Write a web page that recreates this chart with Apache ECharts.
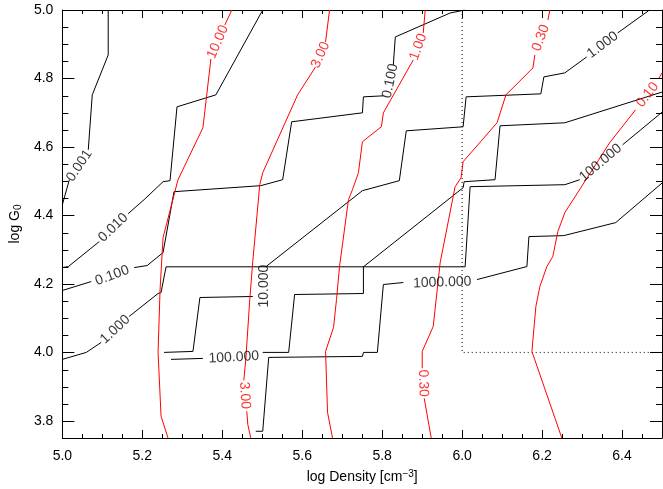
<!DOCTYPE html>
<html><head><meta charset="utf-8">
<script src="https://cdn.jsdelivr.net/npm/echarts@6/dist/echarts.min.js"></script>
<style>html,body{margin:0;padding:0;background:#fff}#c{width:663px;height:489px}</style>
</head><body><div id="c"></div>
<script>
// ---- axes ----
const xRange = [5.0, 6.5];
const yRange = [3.75, 5.0];
const xMajorTicks = [5.0, 5.2, 5.4, 5.6, 5.8, 6.0, 6.2, 6.4];
const yMajorTicks = [3.8, 4.0, 4.2, 4.4, 4.6, 4.8, 5.0];
const minorStep = 0.05;

// ---- black contours (segments, broken where labels sit) ----
const black_0001 = [
  [[5.1147,5.0],[5.1147,4.8688],[5.0748,4.7522],[5.0648,4.5918]],
  [[5.0175,4.5044],[5.0,4.4315]]
];
const black_0010 = [
  [[5.0,4.2478],[5.0150,4.2507],[5.0923,4.3236]],
  [[5.1646,4.4052],[5.2045,4.4461],[5.2519,4.4985],[5.2693,4.5015],[5.2868,4.7172],[5.3840,4.7522],[5.5012,5.0]]
];
const black_0100 = [
  [[5.0,4.1808],[5.0723,4.2070]],
  [[5.1796,4.2478],[5.2120,4.2536],[5.2519,4.2915],[5.2793,4.4694],[5.4963,4.4869],[5.5511,4.5044],[5.5736,4.6735],[5.7506,4.6997],[5.7531,4.7464],[5.8030,4.7493]],
  [[5.8279,4.8397],[5.8329,4.9213],[5.9701,4.9913],[6.0075,5.0]]
];
const black_1000 = [
  [[5.0,3.9796],[5.0599,4.0],[5.0973,4.0292]],
  [[5.1671,4.1050],[5.2394,4.1720],[5.2469,4.1749],[5.2594,4.25],[6.0075,4.25],[6.0200,4.4840],[6.2569,4.4898],[6.2943,4.5044]],
  [[6.4015,4.6064],[6.5,4.7015]]
];
const black_100a = [
  [[5.2718,3.9796],[5.3516,3.9825]],
  [[5.5012,4.0],[5.5661,4.0],[5.5810,4.1691],[5.7531,4.1720],[5.7531,4.25],[6.0025,4.4810],[6.0050,4.4985],[6.0823,4.5044],[6.0948,4.6618],[6.2569,4.6706],[6.5,4.7603]]
];
const black_1000b = [
  [[6.4688,5.0],[6.3890,4.9329]],
  [[6.3117,4.8630],[6.2569,4.8163],[6.2045,4.8047],[6.1970,4.7551],[6.0100,4.7464],[6.0025,4.6589],[5.8603,4.6472],[5.8429,4.5015],[5.7506,4.4723],[5.5087,4.25]]
];
const black_10 = [
  [[5.2544,4.0],[5.3267,4.0029],[5.3441,4.1603],[5.4763,4.1633]]
];
const black_1000000 = [
  [[5.4838,3.7697],[5.5012,3.7697],[5.5162,3.9854],[5.7506,3.9883],[5.7531,4.0],[5.7880,4.0],[5.8030,4.1983],[5.8529,4.2041]],
  [[6.0374,4.2128],[6.1621,4.2507],[6.1671,4.3382],[6.2544,4.3411],[6.3840,4.3790],[6.5,4.4945]]
];
// label: x, y, text, rotation(deg)
const blackLabels = [
  [5.0424,4.5452,'0.001',56],
  [5.1272,4.3644,'0.010',44],
  [5.1247,4.2245,'0.100',20],
  [5.8204,4.7930,'0.100',78],
  [5.1322,4.0671,'1.000',43],
  [6.3466,4.5539,'100.000',40],
  [5.4289,3.9854,'100.000',3],
  [6.3516,4.8980,'1.000',37],
  [5.5037,4.1938,'10.000',90],
  [5.9501,4.2041,'1000.000',2]
];

// ---- red contours ----
const red_10 = [
  [[5.4239,5.0],[5.4065,4.9563]],
  [[5.3716,4.8571],[5.3516,4.6560],[5.2893,4.5044],[5.2519,4.3353],[5.2444,4.1837],[5.2394,4.0],[5.2469,3.8134],[5.2643,3.75]]
];
const red_3 = [
  [[5.6683,5.0],[5.6584,4.9067]],
  [[5.6334,4.8338],[5.5885,4.7522],[5.5012,4.5248],[5.4938,4.4898],[5.4763,4.2653],[5.4688,4.1545],[5.4589,3.9796],[5.4539,3.9184]],
  [[5.4613,3.8280],[5.4638,3.7901],[5.4713,3.75]]
];
const red_1 = [
  [[5.9077,5.0],[5.9027,4.9329]],
  [[5.8778,4.8542],[5.8030,4.6997],[5.7980,4.6589],[5.7506,4.6152],[5.7406,4.5248],[5.7257,4.4752],[5.7157,4.4461],[5.6933,4.2507],[5.6858,4.1545],[5.6783,4.0729],[5.6584,4.0029],[5.6633,3.8251],[5.6758,3.75]]
];
const red_03 = [
  [[6.2195,5.0],[6.2145,4.9708]],
  [[6.1820,4.8688],[6.1771,4.8309],[6.1097,4.7522],[6.0873,4.6706],[6.0025,4.5569],[5.9975,4.5102],[5.9825,4.4840],[5.9451,4.2624],[5.9277,4.0758],[5.9002,4.0029],[5.9002,3.9534]],
  [[5.9052,3.8659],[5.9227,3.75]]
];
const red_01 = [
  [[6.5,4.8163],[6.4913,4.7988]],
  [[6.4339,4.7085],[6.3691,4.6122],[6.2569,4.4082],[6.2394,4.3528],[6.2269,4.2799],[6.2120,4.2507],[6.1945,4.1924],[6.1845,4.1341],[6.1746,4.0029],[6.2494,3.75]]
];
const redLabels = [
  [5.3890,4.9067,'10.00',67],
  [5.6459,4.8688,'3.00',66],
  [5.4564,3.8746,'3.00',-86],
  [5.8903,4.8921,'1.00',70],
  [6.1970,4.9184,'0.30',70],
  [5.9027,3.9096,'0.30',-88],
  [6.4638,4.7522,'0.10',52]
];

// dotted region
const boxX = [6.0, 6.0, 6.5];
const boxY = [5.0, 4.0, 4.0];

const FONT = 'Liberation Sans';
const series = [];
function addLines(segs, color) {
  segs.forEach(s => series.push({
    type: 'line', data: s, showSymbol: false, symbol: 'none', silent: true,
    xAxisIndex: 0, yAxisIndex: 0, clip: true, z: color === 'red' ? 4 : 3,
    lineStyle: { color: color, width: 1 }
  }));
}
function addLabels(labels, color) {
  series.push({
    type: 'scatter', symbolSize: 0, silent: true, xAxisIndex: 0, yAxisIndex: 0,
    z: 5,
    data: labels.map(l => ({ value: [l[0], l[1], l[2]], label: { rotate: l[3] } })),
    label: { show: true, position: 'inside', formatter: p => p.value[2],
      color: color, fontSize: 14, fontFamily: FONT }
  });
}
[black_0001, black_0010, black_0100, black_1000, black_100a, black_1000b, black_10, black_1000000]
  .forEach(c => addLines(c, '#000'));
addLabels(blackLabels, '#000');
[red_10, red_3, red_1, red_03, red_01].forEach(c => addLines(c, 'red'));
addLabels(redLabels, 'red');
series.push({
  type: 'line', data: boxX.map((x, i) => [x, boxY[i]]), showSymbol: false, silent: true,
  xAxisIndex: 0, yAxisIndex: 0, z: 2,
  lineStyle: { color: '#000', width: 1, type: [1, 3] }
});

// ---- tick marks (inward) drawn through the axis scales ----
// item: [value, side(0 bottom,1 top,2 left,3 right), length px]
const X_MAJOR_LEN = 8, X_MINOR_LEN = 4, Y_MAJOR_LEN = 12, Y_MINOR_LEN = 6;
const tickItems = [];
const nx = Math.round((xRange[1] - xRange[0]) / minorStep);
for (let i = 0; i <= nx; i++) {
  const v = +(xRange[0] + i * minorStep).toFixed(2);
  const major = xMajorTicks.some(t => Math.abs(t - v) < 1e-6);
  tickItems.push([v, 0, major ? X_MAJOR_LEN : X_MINOR_LEN]);
  tickItems.push([v, 1, major ? X_MAJOR_LEN : X_MINOR_LEN]);
}
const ny = Math.round((yRange[1] - yRange[0]) / minorStep);
for (let i = 0; i <= ny; i++) {
  const v = +(yRange[0] + i * minorStep).toFixed(2);
  const major = yMajorTicks.some(t => Math.abs(t - v) < 1e-6);
  tickItems.push([v, 2, major ? Y_MAJOR_LEN : Y_MINOR_LEN]);
  tickItems.push([v, 3, major ? Y_MAJOR_LEN : Y_MINOR_LEN]);
}
series.push({
  type: 'custom', xAxisIndex: 0, yAxisIndex: 0, silent: true, clip: false, z: 6,
  data: tickItems,
  renderItem: function (params, api) {
    const v = api.value(0), side = api.value(1), len = api.value(2);
    let p, x1, y1, x2, y2;
    if (side === 0) { p = api.coord([v, yRange[0]]); x1 = x2 = Math.round(p[0]) + 0.5; y1 = p[1]; y2 = p[1] - len; }
    else if (side === 1) { p = api.coord([v, yRange[1]]); x1 = x2 = Math.round(p[0]) + 0.5; y1 = p[1]; y2 = p[1] + len; }
    else if (side === 2) { p = api.coord([xRange[0], v]); y1 = y2 = Math.round(p[1]) + 0.5; x1 = p[0]; x2 = p[0] + len; }
    else { p = api.coord([xRange[1], v]); y1 = y2 = Math.round(p[1]) + 0.5; x1 = p[0]; x2 = p[0] - len; }
    return { type: 'line', shape: { x1: x1, y1: y1, x2: x2, y2: y2 }, style: { stroke: '#000', lineWidth: 1 } };
  }
});

function xAxisDef(pos, showLabels) {
  return {
    type: 'value', position: pos, min: xRange[0], max: xRange[1], gridIndex: 0,
    splitLine: { show: false },
    axisLine: { show: true, onZero: false, lineStyle: { color: '#000', width: 1 } },
    axisTick: { show: false },
    axisLabel: { show: showLabels, customValues: xMajorTicks, formatter: v => v.toFixed(1), color: '#000',
      fontSize: 14, fontFamily: FONT, margin: 11 }
  };
}
function yAxisDef(pos, showLabels) {
  return {
    type: 'value', position: pos, min: yRange[0], max: yRange[1], gridIndex: 0,
    splitLine: { show: false },
    axisLine: { show: true, onZero: false, lineStyle: { color: '#000', width: 1 } },
    axisTick: { show: false },
    axisLabel: { show: showLabels, customValues: yMajorTicks, formatter: v => v.toFixed(1), color: '#000',
      fontSize: 14, fontFamily: FONT, margin: 9 }
  };
}
const xb = xAxisDef('bottom', true);
xb.name = '{a|log Density [cm}{s|−3}{a|]}';
xb.nameLocation = 'middle';
xb.nameGap = 31;
xb.nameTextStyle = { color: '#000', fontFamily: FONT, fontSize: 14,
  rich: { a: { fontSize: 14, fontFamily: FONT, color: '#000', lineHeight: 16 },
          s: { fontSize: 10, fontFamily: FONT, color: '#000', verticalAlign: 'top', lineHeight: 10 } } };
const yl = yAxisDef('left', true);
yl.name = '{a|log G}{s|0}';
yl.nameLocation = 'middle';
yl.nameGap = 38;
yl.nameTextStyle = { color: '#000', fontFamily: FONT, fontSize: 14,
  rich: { a: { fontSize: 14, fontFamily: FONT, color: '#000', lineHeight: 16 },
          s: { fontSize: 10, fontFamily: FONT, color: '#000', verticalAlign: 'bottom', lineHeight: 10, padding: [5, 0, 0, 0] } } };

const option = {
  animation: false,
  backgroundColor: '#fff',
  grid: { left: 61, right: 1, top: 10, bottom: 51, containLabel: false },
  xAxis: [xb, xAxisDef('top', false)],
  yAxis: [yl, yAxisDef('right', false)],
  series: series
};
const chart = echarts.init(document.getElementById('c'), null, { renderer: 'canvas' });
chart.setOption(option);
</script>
</body></html>
